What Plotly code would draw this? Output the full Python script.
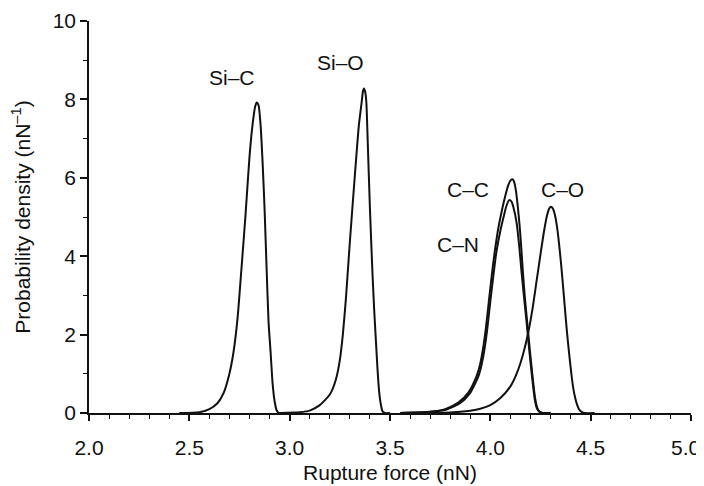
import plotly.graph_objects as go

# Rupture force (nN) and probability density (nN^-1)
sic_x = [2.45, 2.55, 2.60, 2.64, 2.67, 2.70, 2.72, 2.74, 2.76, 2.78, 2.80, 2.815,
         2.828, 2.836, 2.845, 2.855, 2.865, 2.875, 2.885, 2.895, 2.905, 2.915, 2.925,
         2.935, 2.945, 2.97]
sic_y = [0.0, 0.02, 0.10, 0.25, 0.50, 1.01, 1.55, 2.40, 3.70, 5.05, 6.55, 7.35,
         7.82, 7.92, 7.85, 7.35, 6.40, 5.20, 3.70, 2.30, 1.55, 0.75, 0.30,
         0.07, 0.0, 0.0]

sio_x = [2.95, 3.05, 3.10, 3.15, 3.20, 3.23, 3.25, 3.265, 3.28, 3.30, 3.325, 3.345,
         3.359, 3.365, 3.370, 3.376, 3.382, 3.389, 3.400, 3.413, 3.422, 3.430, 3.438,
         3.446, 3.455, 3.463, 3.475, 3.50]
sio_y = [0.0, 0.02, 0.06, 0.20, 0.47, 0.85, 1.35, 2.00, 2.90, 4.37, 6.07, 7.35,
         7.94, 8.20, 8.28, 8.20, 7.94, 6.92, 5.22, 3.52, 2.55, 1.82, 1.10,
         0.54, 0.20, 0.04, 0.0, 0.0]

cc_x = [3.55, 3.70, 3.775, 3.842, 3.890, 3.932, 3.948, 3.963, 3.978, 3.993, 4.008,
        4.022, 4.040, 4.058, 4.075, 4.090, 4.100, 4.109, 4.117, 4.125, 4.133, 4.141,
        4.148, 4.155, 4.162, 4.172, 4.184, 4.197, 4.208, 4.217, 4.224, 4.234, 4.246,
        4.262, 4.30]
cc_y = [0.0, 0.03, 0.10, 0.27, 0.52, 0.95, 1.22, 1.62, 2.17, 2.87, 3.55,
        4.12, 4.72, 5.18, 5.55, 5.82, 5.93, 5.96, 5.92, 5.75, 5.45, 5.05,
        4.65, 4.15, 3.62, 2.95, 2.30, 1.60, 1.05, 0.62, 0.35, 0.13, 0.03,
        0.0, 0.0]

cn_x = [3.55, 3.705, 3.782, 3.849, 3.898, 3.940, 3.955, 3.970, 3.985, 4.000, 4.015,
        4.030, 4.050, 4.065, 4.080, 4.094, 4.105, 4.115, 4.131, 4.145, 4.156, 4.170,
        4.181, 4.195, 4.206, 4.215, 4.222, 4.232, 4.244, 4.26, 4.30]
cn_y = [0.0, 0.03, 0.09, 0.25, 0.50, 0.93, 1.20, 1.60, 2.15, 2.85, 3.50,
        4.10, 4.65, 4.98, 5.28, 5.43, 5.40, 5.25, 4.85, 4.20, 3.57, 2.85,
        2.30, 1.55, 1.02, 0.60, 0.33, 0.12, 0.03, 0.0, 0.0]

co_x = [3.65, 3.75, 3.85, 3.90, 3.95, 4.00, 4.05, 4.10, 4.125, 4.15, 4.17, 4.19,
        4.21, 4.23, 4.25, 4.268, 4.283, 4.294, 4.302, 4.311, 4.322, 4.333, 4.343,
        4.353, 4.363, 4.372, 4.380, 4.389, 4.397, 4.405, 4.413, 4.423, 4.433, 4.444,
        4.455, 4.47, 4.52]
co_y = [0.0, 0.0, 0.03, 0.06, 0.11, 0.20, 0.38, 0.68, 0.93, 1.27, 1.63, 2.08,
        2.65, 3.35, 4.05, 4.65, 5.05, 5.22, 5.26, 5.22, 5.05, 4.72, 4.29,
        3.78, 3.19, 2.65, 2.17, 1.70, 1.31, 0.95, 0.64, 0.38, 0.20, 0.08,
        0.03, 0.0, 0.0]

series = [("Si–C", sic_x, sic_y), ("Si–O", sio_x, sio_y), ("C–C", cc_x, cc_y),
          ("C–N", cn_x, cn_y), ("C–O", co_x, co_y)]

label_text = ["Si–C", "Si–O", "C–C", "C–N", "C–O"]
label_x = [2.713, 3.251, 3.888, 3.839, 4.362]
label_y = [8.57, 8.93, 5.69, 4.29, 5.69]

x_ticks = [2.0, 2.5, 3.0, 3.5, 4.0, 4.5, 5.0]
# the last label is drawn as an annotation so it stays inside the page edge
x_tick_text = ["2.0", "2.5", "3.0", "3.5", "4.0", "4.5", ""]
last_x_label = "5.0"
y_ticks = [0, 2, 4, 6, 8, 10]

FONT = "Liberation Sans, Arial, Helvetica, sans-serif"
FS = 21

fig = go.Figure()
for name, xs, ys in series:
    fig.add_trace(go.Scatter(x=xs, y=ys, mode="lines", name=name,
                             line=dict(color="#111111", width=2, shape="spline", smoothing=0.6),
                             showlegend=False, hoverinfo="skip"))

for t, lx, ly in zip(label_text, label_x, label_y):
    fig.add_annotation(x=lx, y=ly, text=t, showarrow=False,
                       font=dict(family=FONT, size=FS, color="#111111"),
                       xanchor="center", yanchor="middle")

fig.add_annotation(x=x_ticks[-1], xref="x", y=0, yref="paper", text=last_x_label,
                   showarrow=False, font=dict(family=FONT, size=FS, color="#111111"),
                   xanchor="right", yanchor="middle", xshift=11, yshift=-34)

# the page body adds an 8 px offset, so margins are shifted by 8 px
fig.update_layout(
    width=696, height=478,
    margin=dict(l=81, r=13, t=13, b=73),
    paper_bgcolor="white", plot_bgcolor="white",
    font=dict(family=FONT, size=FS, color="#111111"),
)
fig.update_xaxes(
    range=[2.0, 5.0], tickvals=x_ticks, ticktext=x_tick_text,
    showline=True, linecolor="#111111", linewidth=1.5,
    ticks="outside", ticklen=6, tickwidth=1.5, tickcolor="#111111",
    minor=dict(dtick=0.1, ticks="outside", ticklen=4, tickwidth=1.2, tickcolor="#111111"),
    showgrid=False, zeroline=False, ticklabeloverflow="allow", ticklabelstandoff=9,
    automargin=False,
    title=dict(text="Rupture force (nN)", standoff=7, font=dict(size=FS)),
    tickfont=dict(size=FS),
)
fig.update_yaxes(
    range=[0, 10], tickvals=y_ticks,
    showline=True, linecolor="#111111", linewidth=1.5,
    ticks="outside", ticklen=7, tickwidth=1.5, tickcolor="#111111",
    minor=dict(dtick=1, ticks="outside", ticklen=4, tickwidth=1.2, tickcolor="#111111"),
    showgrid=False, zeroline=False, ticklabeloverflow="allow", ticklabelstandoff=0,
    automargin=False,
    title=dict(text="Probability density (nN<sup>–1</sup>)", standoff=25, font=dict(size=FS)),
    tickfont=dict(size=FS),
)

fig.write_html("out.html")
